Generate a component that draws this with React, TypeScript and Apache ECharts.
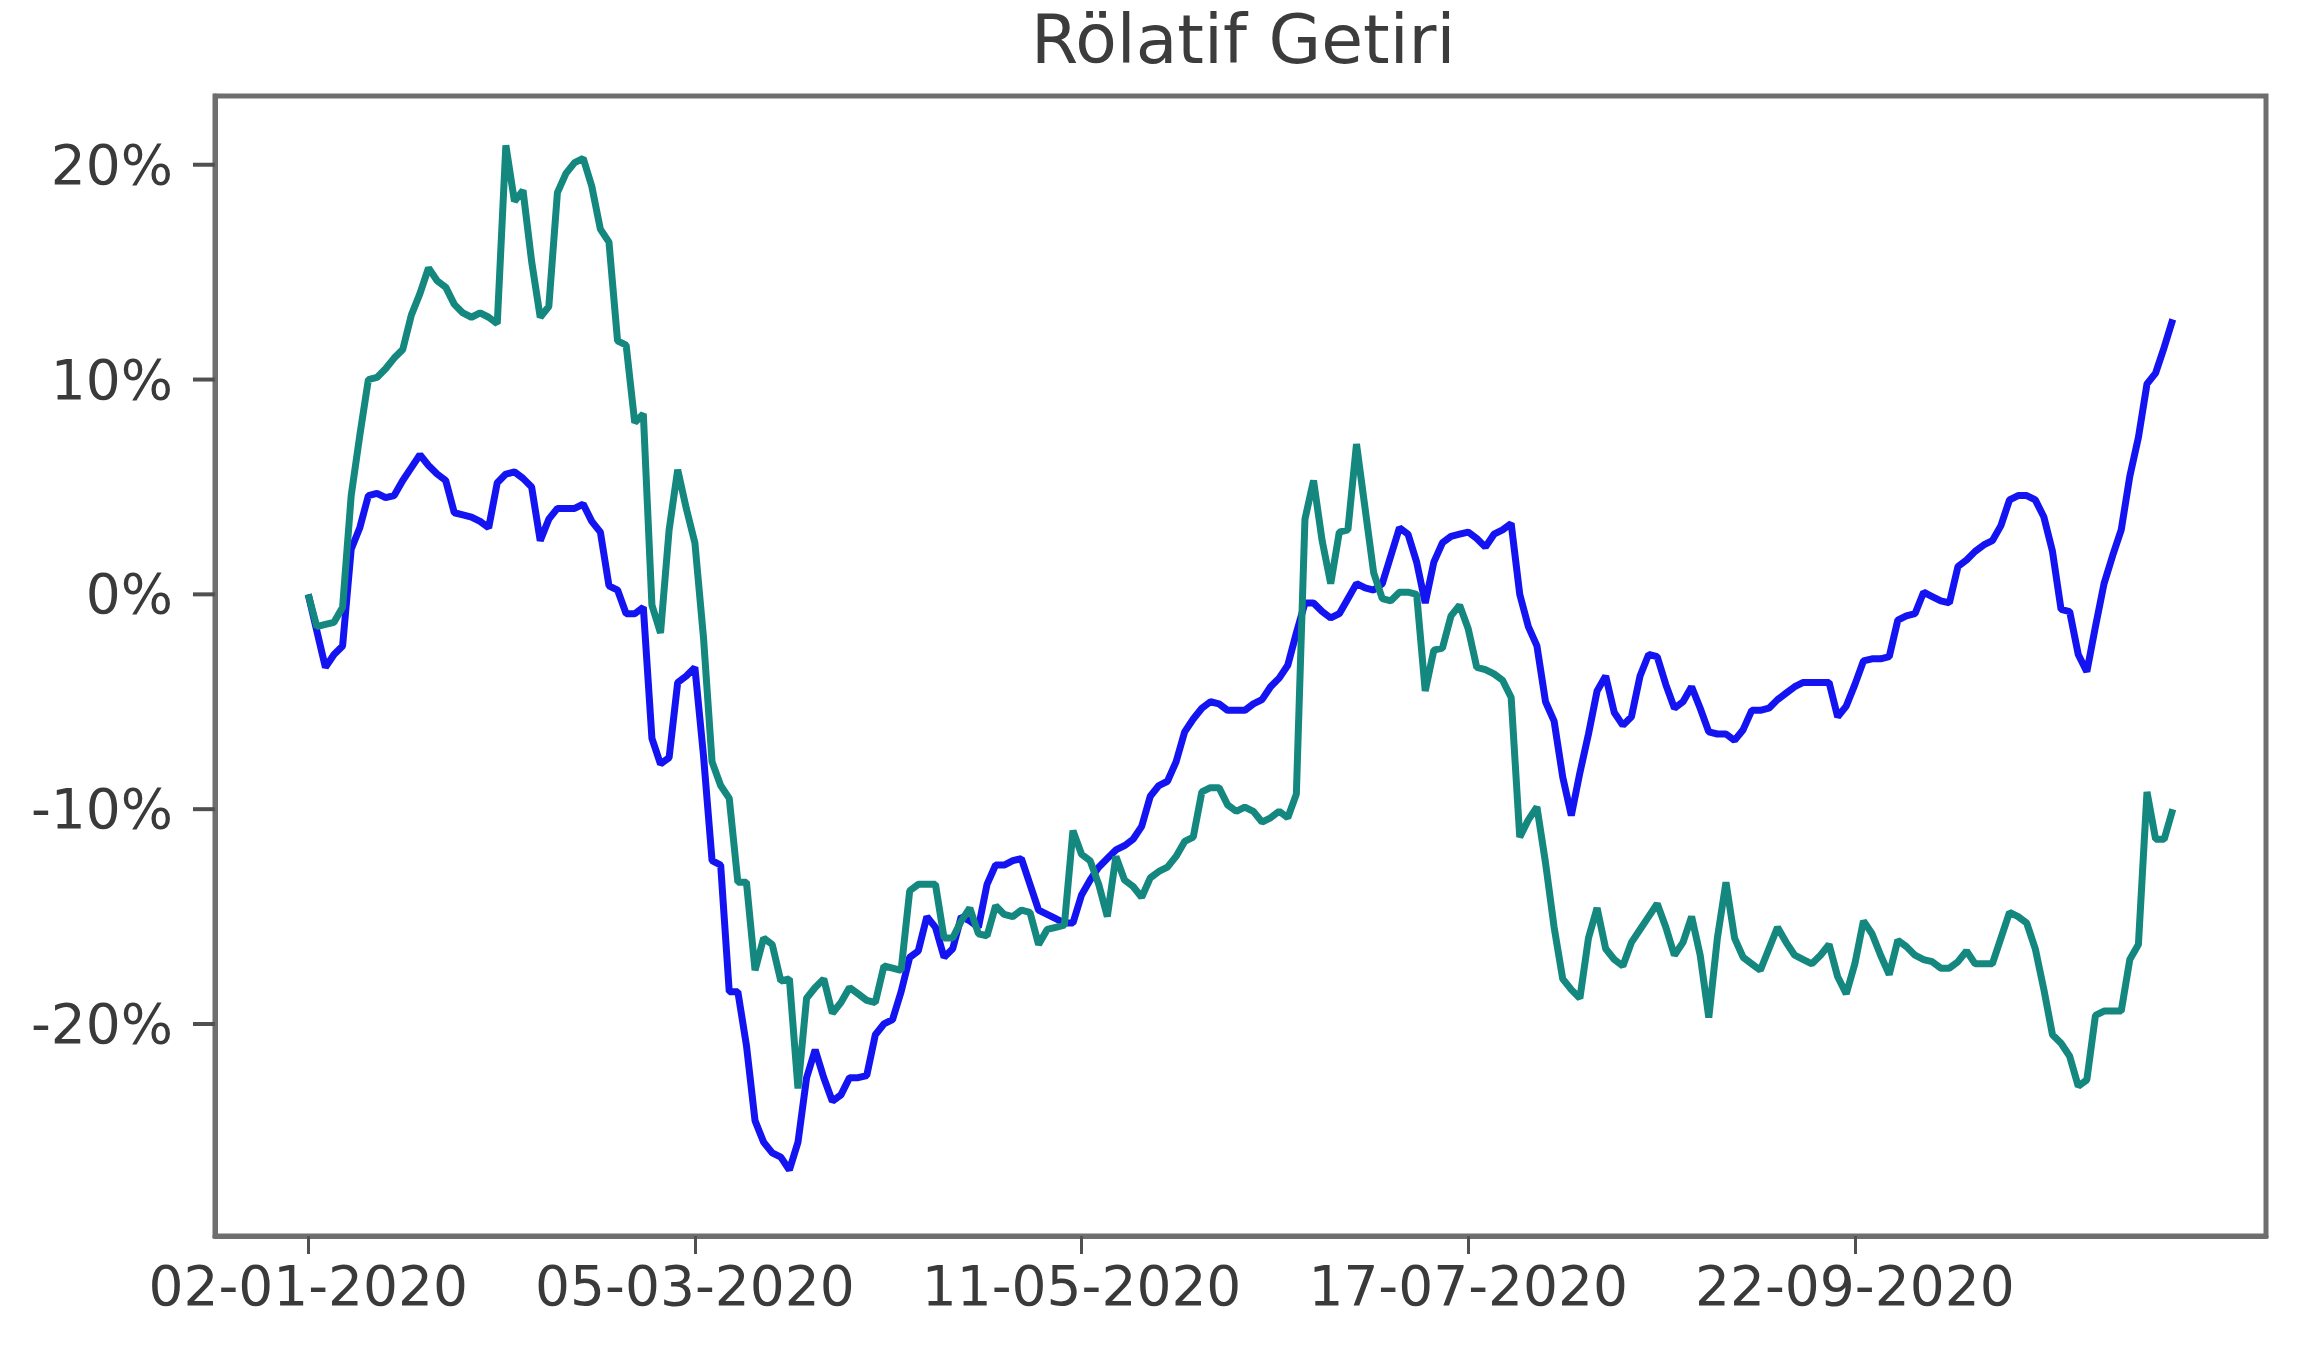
import React, { useEffect, useRef } from "react";
import * as echarts from "echarts";

const chartTitle = "Rölatif Getiri";

const xTickIndex = [0, 45, 90, 135, 180];
const xTickLabels = ["02-01-2020", "05-03-2020", "11-05-2020", "17-07-2020", "22-09-2020"];
const yTickValues = [-20, -10, 0, 10, 20];

// blue series (%), one value per trading day
const blueValues = [
  0, -1.7, -3.4, -2.8, -2.4, 2.1, 3.1, 4.6, 4.7, 4.5,
  4.6, 5.3, 5.9, 6.5, 6.0, 5.6, 5.3, 3.8, 3.7, 3.6,
  3.4, 3.1, 5.2, 5.6, 5.7, 5.4, 5.0, 2.5, 3.5, 4.0,
  4.0, 4.0, 4.2, 3.4, 2.9, 0.4, 0.2, -0.9, -0.9, -0.6,
  -6.7, -7.9, -7.6, -4.1, -3.8, -3.4, -7.5, -12.4, -12.6, -18.5,
  -18.5, -21.0, -24.5, -25.5, -26.0, -26.2, -26.8, -25.5, -22.5, -21.2,
  -22.5, -23.6, -23.3, -22.5, -22.5, -22.4, -20.5, -20.0, -19.8, -18.5,
  -16.9, -16.6, -15.0, -15.5, -16.9, -16.5, -15.0, -15.2, -15.5, -13.5,
  -12.6, -12.6, -12.4, -12.3, -13.5, -14.7, -14.9, -15.1, -15.3, -15.3,
  -14.0, -13.3, -12.7, -12.3, -11.9, -11.7, -11.4, -10.8, -9.4, -8.9,
  -8.7, -7.8, -6.4, -5.8, -5.3, -5.0, -5.1, -5.4, -5.4, -5.4,
  -5.1, -4.9, -4.3, -3.9, -3.3, -1.8, -0.4, -0.4, -0.8, -1.1,
  -0.9, -0.2, 0.5, 0.3, 0.2, 0.5, 1.8, 3.1, 2.8, 1.5,
  -0.4, 1.5, 2.4, 2.7, 2.8, 2.9, 2.6, 2.2, 2.8, 3.0,
  3.3, 0.0, -1.5, -2.4, -5.0, -5.9, -8.5, -10.3, -8.3, -6.5,
  -4.5, -3.8, -5.5, -6.1, -5.7, -3.8, -2.8, -2.9, -4.2, -5.3,
  -5.0, -4.3, -5.3, -6.4, -6.5, -6.5, -6.8, -6.3, -5.4, -5.4,
  -5.3, -4.9, -4.6, -4.3, -4.1, -4.1, -4.1, -4.1, -5.7, -5.2,
  -4.2, -3.1, -3.0, -3.0, -2.9, -1.2, -1.0, -0.9, 0.1, -0.1,
  -0.3, -0.4, 1.3, 1.6, 2.0, 2.3, 2.5, 3.2, 4.4, 4.6,
  4.6, 4.4, 3.6, 2.0, -0.7, -0.8, -2.8, -3.6, -1.5, 0.5,
  1.8, 3.0, 5.5, 7.3, 9.8, 10.3, 11.5, 12.8,
];

// teal series (%), one value per trading day
const tealValues = [
  0, -1.5, -1.4, -1.3, -0.6, 4.6, 7.4, 10.0, 10.1, 10.5,
  11.0, 11.4, 13.0, 14.0, 15.2, 14.6, 14.3, 13.5, 13.1, 12.9,
  13.1, 12.9, 12.6, 20.9, 18.3, 18.8, 15.5, 12.9, 13.4, 18.7,
  19.6, 20.1, 20.3, 19.0, 17.0, 16.4, 11.8, 11.6, 8.0, 8.4,
  -0.5, -1.8, 3.0, 5.8, 4.0, 2.4, -2.0, -7.8, -8.9, -9.5,
  -13.4, -13.4, -17.5, -16.0, -16.3, -18.0, -17.9, -23.0, -18.8, -18.3,
  -17.9, -19.5, -19.0, -18.3, -18.6, -18.9, -19.0, -17.3, -17.4, -17.5,
  -13.8, -13.5, -13.5, -13.5, -16.0, -16.0, -15.2, -14.6, -15.8, -15.9,
  -14.5, -14.9, -15.0, -14.7, -14.8, -16.3, -15.6, -15.5, -15.4, -11.0,
  -12.1, -12.4, -13.5, -15.0, -12.2, -13.3, -13.6, -14.1, -13.2, -12.9,
  -12.7, -12.2, -11.5, -11.3, -9.2, -9.0, -9.0, -9.8, -10.1, -9.9,
  -10.1, -10.6, -10.4, -10.1, -10.4, -9.3, 3.5, 5.3, 2.5, 0.5,
  2.9, 3.0, 7.0, 4.0, 1.0, -0.2, -0.3, 0.1, 0.1, 0.0,
  -4.5, -2.6, -2.5, -1.0, -0.5, -1.6, -3.4, -3.5, -3.7, -4.0,
  -4.8, -11.3, -10.5, -9.9, -12.5, -15.5, -17.9, -18.4, -18.8, -16.0,
  -14.6, -16.5, -17.0, -17.3, -16.2, -15.6, -15.0, -14.4, -15.5, -16.8,
  -16.2, -15.0, -16.8, -19.7, -16.0, -13.4, -16.0, -16.9, -17.2, -17.5,
  -16.5, -15.5, -16.2, -16.8, -17.0, -17.2, -16.8, -16.3, -17.8, -18.6,
  -17.2, -15.2, -15.8, -16.8, -17.7, -16.1, -16.4, -16.8, -17.0, -17.1,
  -17.4, -17.4, -17.1, -16.6, -17.2, -17.2, -17.2, -16.0, -14.8, -15.0,
  -15.3, -16.5, -18.4, -20.5, -20.9, -21.5, -22.9, -22.6, -19.6, -19.4,
  -19.4, -19.4, -17.0, -16.3, -9.2, -11.4, -11.4, -10.0,
];

const FONT = "DejaVu Sans";
const FRAME = "#6e6e6e";
const TICK = "#505050";

export default function App() {
  const ref = useRef<HTMLDivElement>(null);

  useEffect(() => {
    document.body.style.margin = "0";
    if (!ref.current) return;
    const chart = echarts.init(ref.current, undefined, { renderer: "svg" });
    const lastIndex = blueValues.length - 1;
    const pad = lastIndex * 0.05;
    const xMin = -pad;
    chart.setOption({
      animation: false,
      backgroundColor: "#ffffff",
      title: {
        text: chartTitle,
        left: 1026,
        top: 0,
        textStyle: { fontFamily: FONT, fontSize: 68, fontWeight: "normal", color: "#3c3c3c" },
      },
      grid: {
        left: 215,
        right: 50,
        top: 96,
        bottom: 120,
        show: true,
        borderColor: FRAME,
        borderWidth: 5,
        backgroundColor: "transparent",
        outerBoundsMode: "none",
      },
      xAxis: {
        type: "value",
        position: "bottom",
        min: xMin,
        max: lastIndex + pad,
        axisLine: { show: true, onZero: false, lineStyle: { color: FRAME, width: 5 } },
        splitLine: { show: false },
        axisTick: {
          show: true,
          customValues: xTickIndex,
          length: 18,
          lineStyle: { color: TICK, width: 3 },
        },
        axisLabel: {
          customValues: xTickIndex,
          formatter: (v: number) => {
            const k = xTickIndex.indexOf(Math.round(v));
            return k >= 0 ? xTickLabels[k] : "";
          },
          fontFamily: FONT,
          fontSize: 55,
          color: "#3a3a3a",
          margin: 22,
        },
      },
      yAxis: {
        type: "value",
        position: "left",
        min: -29.87,
        max: 23.2,
        axisLine: { show: true, onZero: false, lineStyle: { color: FRAME, width: 5 } },
        splitLine: { show: false },
        axisTick: { show: false },
        axisLabel: {
          customValues: yTickValues,
          formatter: (v: number) => `${Math.round(v)}%`,
          fontFamily: FONT,
          fontSize: 55,
          color: "#3a3a3a",
          margin: 42,
        },
      },
      series: [
        {
          name: "blue",
          type: "line",
          data: blueValues.map((v, i) => [i, v]),
          showSymbol: false,
          lineStyle: { color: "#1414f2", width: 7 },
          z: 2,
        },
        {
          name: "teal",
          type: "line",
          data: tealValues.map((v, i) => [i, v]),
          showSymbol: false,
          lineStyle: { color: "#14877f", width: 7 },
          z: 3,
        },
      ],
    });

    // y-axis tick marks, placed through the axis scale
    const axisX = Number(chart.convertToPixel({ xAxisIndex: 0 }, xMin));
    const tickMarks = yTickValues.map((v) => {
      const py = Number(chart.convertToPixel({ yAxisIndex: 0 }, v));
      return {
        type: "line",
        silent: true,
        z: 100,
        shape: { x1: axisX - 22, y1: py, x2: axisX, y2: py },
        style: { stroke: TICK, lineWidth: 4 },
      };
    });
    chart.setOption({ graphic: tickMarks });

    return () => chart.dispose();
  }, []);

  return <div ref={ref} style={{ width: 2316, height: 1356 }} />;
}
